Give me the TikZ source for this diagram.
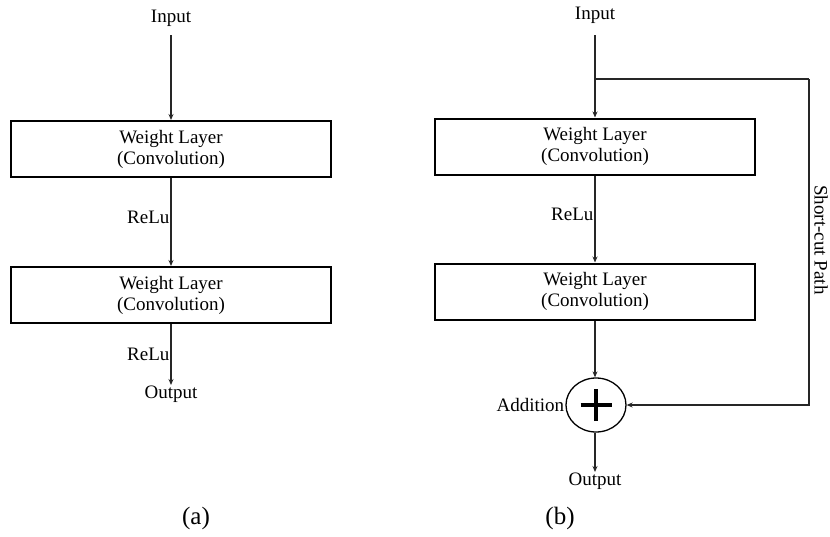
\documentclass[tikz,border=0pt]{standalone}
\usepackage{fontspec}
\setmainfont{Liberation Serif}
\usetikzlibrary{arrows.meta,shapes.geometric}
\begin{document}
\begin{tikzpicture}[x=1pt,y=-1pt,
  lbl/.style={font=\fontsize{19}{21}\selectfont, inner sep=1pt},
  captext/.style={font=\fontsize{25}{28}\selectfont, inner sep=1pt},
  layer/.style={draw=black, line width=2pt, minimum width=320pt, minimum height=56pt,
    align=center, font=\fontsize{19}{21}\selectfont, inner sep=0pt},
  arr/.style={draw=black!85, line width=1.1pt, -{Stealth[length=6pt,width=5pt]}},
  ln/.style={draw=black!85, line width=1.1pt}]
\useasboundingbox (0,0) rectangle (830,536);
% ---- (a) ----
\node[lbl] (inA) at (171,18) {Input};
\node[layer] (a1) at (171,149) {Weight Layer\\(Convolution)};
\node[layer] (a2) at (171,295) {Weight Layer\\(Convolution)};
\node[lbl, anchor=north] (outA) at (171,385) {Output};
\draw[arr, shorten <=8pt] (inA) -- (a1.north);
\draw[arr] (a1.south) -- node[lbl, anchor=east, pos=0.45] (r1) {ReLu} (a2.north);
\draw[arr] (a2.south) -- node[lbl, anchor=east, pos=0.5] (r2) {ReLu} (outA.north);
\node[captext] (capa) at (196,518) {(a)};
% ---- (b) ----
\node[lbl] (inB) at (595,15) {Input};
\node[layer] (b1) at (595,146.5) {Weight Layer\\(Convolution)};
\node[layer] (b2) at (595,291.5) {Weight Layer\\(Convolution)};
\node[draw=black, line width=1.3pt, ellipse, minimum width=60pt, minimum height=54pt, inner sep=0pt] (add) at (596,405) {};
\draw[line width=4.5pt] ([xshift=-15.5pt]add.center) -- ([xshift=15.5pt]add.center);
\draw[line width=4.5pt] ([yshift=-16pt]add.center) -- ([yshift=16pt]add.center);
\node[lbl, anchor=east] (addl) at (add.west) {Addition};
\node[lbl, anchor=north] (outB) at (595,472) {Output};
\coordinate (J) at (595,79);
\coordinate (C1) at (809,79);
\draw[arr, shorten <=11pt] (inB) -- (b1.north);
\draw[arr] (b1.south) -- node[lbl, anchor=east, pos=0.45] (r3) {ReLu} (b2.north);
\draw[arr] (b2.south) -- (b2.south |- add.north);
\draw[ln] (J) -- (C1);
\draw[arr] (C1) |- (add.east);
\node[lbl, rotate=-90] (sc) at (821,240) {Short-cut Path};
\draw[arr] (add.south -| outB.north) -- (outB.north);
\node[captext] (capb) at (560,518) {(b)};
\end{tikzpicture}
\end{document}
